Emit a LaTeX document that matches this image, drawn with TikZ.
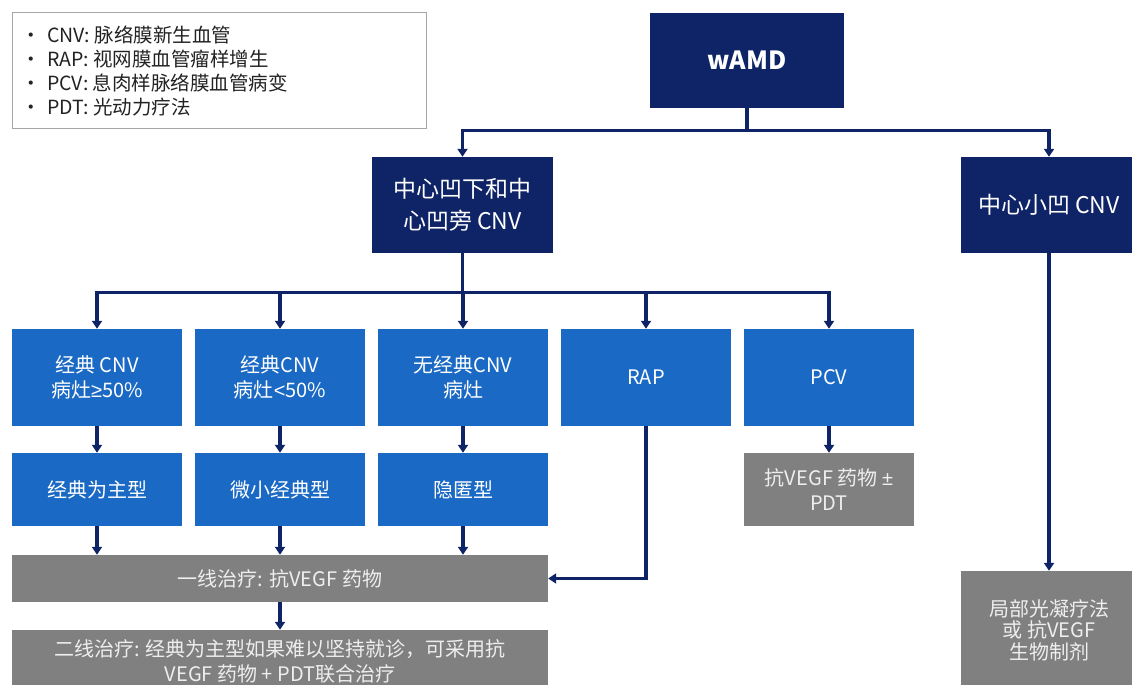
\documentclass[tikz,border=0pt]{standalone}
\usepackage{fontspec}
\setmainfont{Noto Sans CJK SC}
\newfontfamily\symf{Liberation Sans}
\usetikzlibrary{arrows.meta}
\definecolor{navy}{HTML}{0F2466}
\definecolor{mblue}{HTML}{1A69C4}
\definecolor{gbox}{HTML}{808080}
\definecolor{gtext}{HTML}{EEEEEE}
\definecolor{lgborder}{HTML}{A6A6A6}
\definecolor{lgtext}{HTML}{222222}
\begin{document}
\begin{tikzpicture}[x=1pt,y=-1pt,
  box/.style={draw=none, inner sep=0pt, align=center},
  navybox/.style={box, fill=navy, text=white, font=\fontsize{23}{32}\selectfont},
  bluebox/.style={box, fill=mblue, text=white, minimum width=170pt, font=\fontsize{20}{25}\selectfont},
  graybox/.style={box, fill=gbox, text=gtext, font=\fontsize{20}{25}\selectfont},
  arr/.style={draw=navy, line width=3.2pt, -{Triangle[width=10pt,length=8pt]}}]
\clip (0,0) rectangle (1132,685);
\fill[white] (0,0) rectangle (1132,685);
% legend
\node[draw=lgborder, line width=1.3pt, minimum width=414pt, minimum height=116pt, inner sep=0pt, anchor=north west] (legend) at (12,12) {};
\node[anchor=west, align=left, inner sep=0pt, text=lgtext, font=\fontsize{19.5}{24}\selectfont] (legtext) at (21,71)
 {\makebox[26pt][l]{•}CNV: 脉络膜新生血管\\
  \makebox[26pt][l]{•}RAP: 视网膜血管瘤样增生\\
  \makebox[26pt][l]{•}PCV: 息肉样脉络膜血管病变\\
  \makebox[26pt][l]{•}PDT: 光动力疗法};
% top
\node[navybox, minimum width=194pt, minimum height=95pt, font=\fontsize{25}{30}\selectfont\bfseries] (wamd) at (747,60.5) {wAMD};
\node[navybox, minimum width=181pt, minimum height=96pt] (c1) at (462.5,205) {中心凹下和中\\心凹旁 CNV};
\node[navybox, minimum width=176pt, minimum height=96pt] (c2) at (1049,205) {中心小凹 CNV};
% row 1
\node[bluebox, minimum height=97pt] (r1) at (97,377.5) {经典 CNV\\病灶{\symf ≥}50\%};
\node[bluebox, minimum height=97pt] (r2) at (280,377.5) {经典CNV\\病灶{\symf <}50\%};
\node[bluebox, minimum height=97pt] (r3) at (463,377.5) {无经典CNV\\病灶};
\node[bluebox, minimum height=97pt] (r4) at (646,377.5) {RAP};
\node[bluebox, minimum height=97pt] (r5) at (829,377.5) {PCV};
% row 2
\node[bluebox, minimum height=73pt] (s1) at (97,489.5) {经典为主型};
\node[bluebox, minimum height=73pt] (s2) at (280,489.5) {微小经典型};
\node[bluebox, minimum height=73pt] (s3) at (463,489.5) {隐匿型};
\node[graybox, minimum width=170pt, minimum height=73pt] (s5) at (829,489.5) {抗VEGF 药物 {\symf ±}\\PDT};
% gray
\node[graybox, minimum width=536pt, minimum height=47pt] (g1) at (280,578.5) {一线治疗: 抗VEGF 药物};
\node[graybox, minimum width=536pt, minimum height=62pt] (g2) at (280,661) {二线治疗: 经典为主型如果难以坚持就诊，可采用抗\\VEGF 药物 + PDT联合治疗};
\node[graybox, minimum width=176pt, minimum height=118pt, font=\fontsize{20}{21.5}\selectfont] (g3) at (1049,630) {局部光凝疗法\\或 抗VEGF\\生物制剂};
% connectors
\draw[arr] (wamd.south) -- ++(0,22) -| (c1.north);
\draw[arr] (wamd.south) -- ++(0,22) -| (c2.north);
\foreach \n in {r1,r2,r3,r4,r5}{
  \draw[arr] (c1.south) -- ++(0,39) -| (\n.north);
}
\draw[arr] (r1.south) -- (s1.north);
\draw[arr] (r2.south) -- (s2.north);
\draw[arr] (r3.south) -- (s3.north);
\draw[arr] (r5.south) -- (s5.north);
\draw[arr] (s1.south) -- (s1.south |- g1.north);
\draw[arr] (s2.south) -- (s2.south |- g1.north);
\draw[arr] (s3.south) -- (s3.south |- g1.north);
\draw[arr] (r4.south) |- (g1.east);
\draw[arr] (g1.south) -- (g2.north);
\draw[arr] (c2.south) -- (g3.north);
\end{tikzpicture}
\end{document}
